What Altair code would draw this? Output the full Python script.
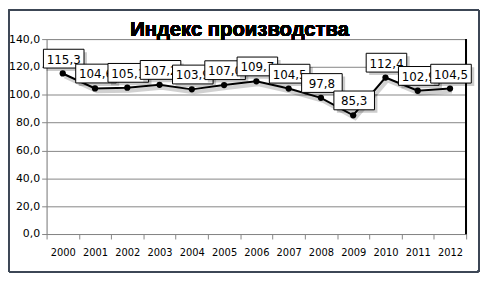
import altair as alt
import pandas as pd

years = ["2000", "2001", "2002", "2003", "2004", "2005", "2006",
         "2007", "2008", "2009", "2010", "2011", "2012"]
values = [115.3, 104.6, 105.1, 107.2, 103.9, 107.0, 109.7,
          104.5, 97.8, 85.3, 112.4, 102.9, 104.5]
labels = ["115,3", "104,6", "105,1", "107,2", "103,9", "107,0", "109,7",
          "104,5", "97,8", "85,3", "112,4", "102,9", "104,5"]
title_text = "Индекс производства"

df = pd.DataFrame({"year": years, "value": values, "label": labels,
                   "idx": list(range(len(years)))})

W, H = 424, 197
FONT = "DejaVu Sans"

x = alt.X("year:O", sort=years, title=None,
          scale=alt.Scale(paddingInner=0, paddingOuter=0),
          axis=alt.Axis(labelAngle=0, tickBand="extent", tickSize=5,
                        labelPadding=9, labelFont=FONT, labelFontSize=10,
                        labelColor="#000000", domainColor="#868686",
                        tickColor="#868686", grid=False))
y = alt.Y("value:Q", title=None,
          scale=alt.Scale(domain=[0, 140], nice=False, zero=True),
          axis=alt.Axis(values=[0, 20, 40, 60, 80, 100, 120, 140],
                        labelExpr="replace(format(datum.value, '.1f'), '.', ',')",
                        tickSize=5, labelPadding=2, labelFont=FONT,
                        labelFontSize=11, labelColor="#000000",
                        domainColor="#868686", tickColor="#868686",
                        gridColor="#868686", gridWidth=1))

base = alt.Chart(df)

border = alt.Chart(df).mark_rect(
    fillOpacity=0, stroke="#3d4756", strokeWidth=1.5, cornerRadius=2
).encode(x=alt.value(-38.5), x2=alt.value(437), y=alt.value(-29.5), y2=alt.value(235))

grid = base.mark_line(opacity=0).encode(x=x, y=y)

right_rule = alt.Chart(df).mark_rule(color="#000000", strokeWidth=1).encode(
    x=alt.value(W), y=alt.value(0), y2=alt.value(H))

line_shadow = base.mark_line(color="#000000", opacity=0.18, strokeWidth=4,
                             xOffset=2, yOffset=3).encode(x=x, y=y)
line = base.mark_line(color="#000000", strokeWidth=2).encode(x=x, y=y)
pts = base.mark_circle(color="#000000", size=40, opacity=1).encode(x=x, y=y)

BW, BH = 41, 19
half = BH / BW
box_path = f"M-1,-{half:.3f}L1,-{half:.3f}L1,{half:.3f}L-1,{half:.3f}Z"
layers = [border, grid, right_rule, line_shadow, line, pts]
for i in range(len(years)):
    d = base.transform_filter(alt.datum.idx == i)
    shadow = d.mark_point(shape=box_path, size=BW * BW, filled=True,
                          fill="#000000", opacity=0.2, strokeWidth=0,
                          xOffset=4, yOffset=-12).encode(x=x, y=y)
    box = d.mark_point(shape=box_path, size=BW * BW, filled=True,
                       fill="#ffffff", stroke="#000000", strokeWidth=1,
                       opacity=1, xOffset=1, yOffset=-15).encode(x=x, y=y)
    txt = d.mark_text(font=FONT, fontSize=12, color="#000000",
                      baseline="middle", align="center", dx=1, dy=-14).encode(
        x=x, y=y, text="label:N")
    layers += [shadow, box, txt]

title = alt.Chart(df).mark_text(
    text=title_text, font="Liberation Sans", fontWeight="bold", fontSize=20.5,
    align="center", baseline="alphabetic", color="#000000"
).encode(x=alt.value(195), y=alt.value(-3))
layers.append(title)

chart = alt.layer(*layers).properties(
    width=W, height=H, autosize="none",
    padding={"left": 39, "top": 30, "right": 15, "bottom": 42}
).configure_view(stroke=None).configure(background="white")

chart.save("out.html", embed_options={"renderer": "svg", "actions": False})
